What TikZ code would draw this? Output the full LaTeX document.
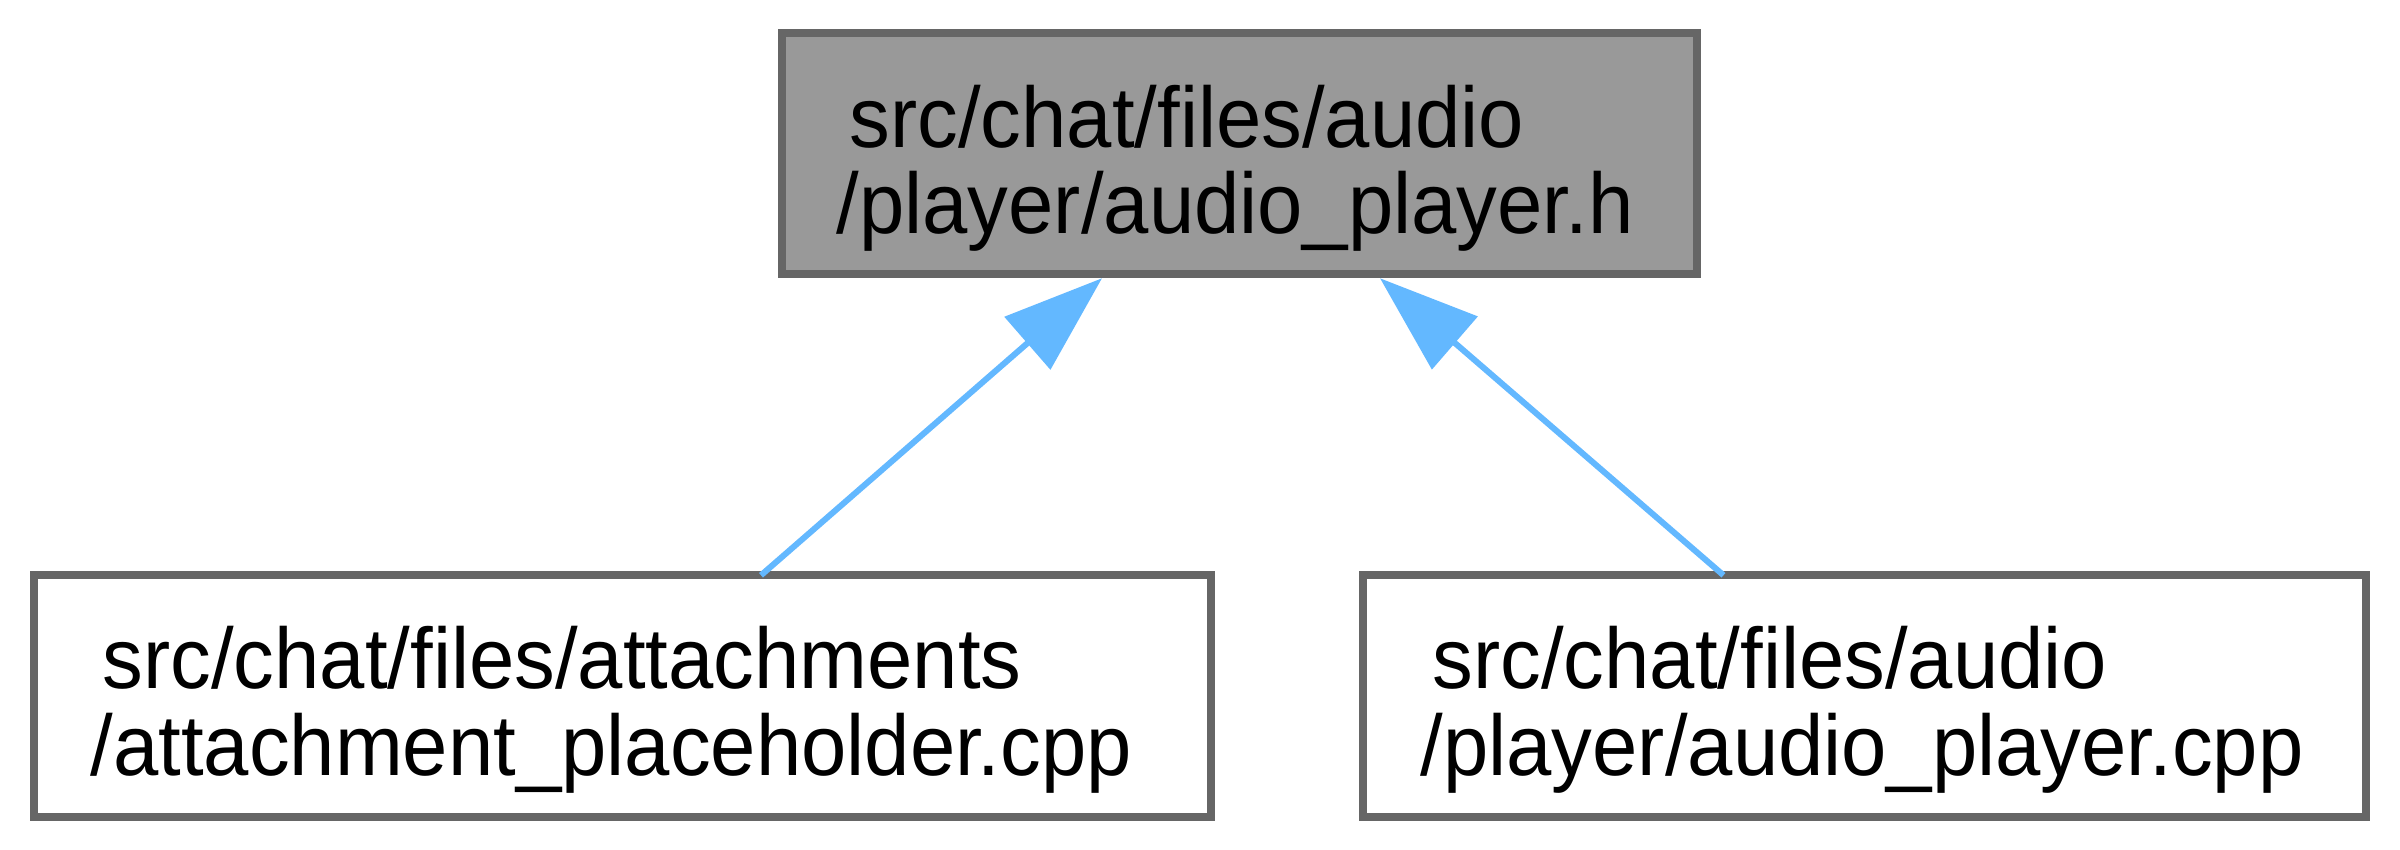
\documentclass[tikz,border=0pt]{standalone}
\usepackage{fontspec}
\setmainfont{Liberation Sans}[FakeStretch=0.947]
\usetikzlibrary{arrows.meta,calc}
\definecolor{boxgray}{HTML}{666666}
\definecolor{topgray}{HTML}{999999}
\definecolor{edgeblue}{HTML}{63B8FF}
\begin{document}
\begin{tikzpicture}[x=0.3pt,y=-0.3pt,
  box/.style={draw=boxgray,line width=2.4pt,inner sep=0pt,outer sep=0pt,minimum height=72.45pt},
  lbl/.style={anchor=base west,inner sep=0pt,font=\fontsize{25.8pt}{25.8pt}\selectfont},
  edge/.style={draw=edgeblue,line width=1.8pt,-{Triangle[length=29.7pt,width=20.6pt]}}]
\useasboundingbox (0,0) rectangle (2400,850);
\fill[white] (0,0) rectangle (2400,850);
\node[box,fill=topgray,minimum width=274.5pt] (top) at (1239.5,153.5) {};
\node[box,fill=white,minimum width=353.1pt] (lb) at (622.5,696) {};
\node[box,fill=white,minimum width=300.9pt] (rb) at (1864.5,696) {};
\node[lbl] (t1) at (849,147) {src/chat/files/audio};
\node[lbl] (t2) at (836,233) {/player/audio\_player.h};
\node[lbl] (l1) at (102,688) {src/chat/files/attachments};
\node[lbl] (l2) at (90,775) {/attachment\_placeholder.cpp};
\node[lbl] (r1) at (1432,688) {src/chat/files/audio};
\node[lbl] (r2) at (1420,775) {/player/audio\_player.cpp};
\draw[edge] ($(lb.north)+(138.5,0)$) -- ($(top.south)+(-137.5,4)$);
\draw[edge] ($(rb.north)+(-141,0)$) -- ($(top.south)+(140.5,4)$);
\end{tikzpicture}
\end{document}
